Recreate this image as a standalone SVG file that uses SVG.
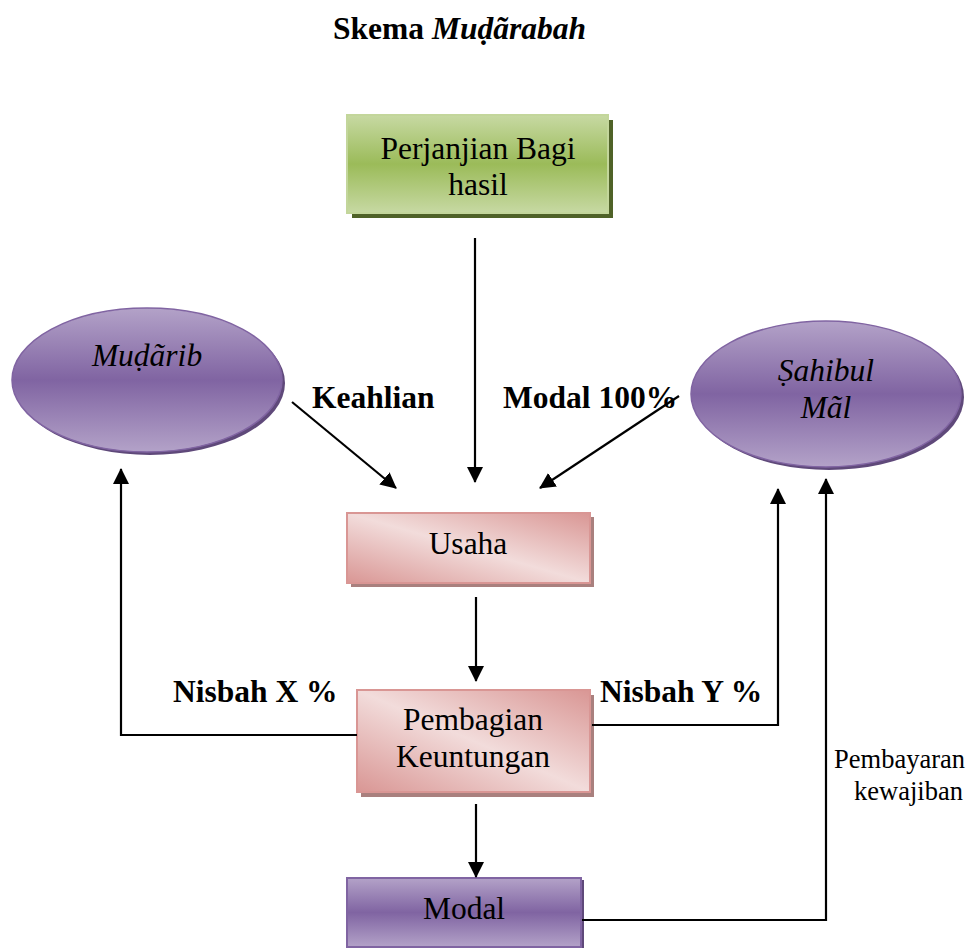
<svg xmlns="http://www.w3.org/2000/svg" width="969" height="948" viewBox="0 0 969 948">
<defs>
<linearGradient id="gGreen" x1="0" y1="0" x2="0" y2="1">
<stop offset="0" stop-color="#c7d9a3"/><stop offset="0.5" stop-color="#9bbb59"/><stop offset="1" stop-color="#c7d9a3"/>
</linearGradient>
<linearGradient id="gPink" x1="0" y1="1" x2="1" y2="0">
<stop offset="0" stop-color="#d99694"/><stop offset="0.5" stop-color="#f2dcdb"/><stop offset="1" stop-color="#d99694"/>
</linearGradient>
<linearGradient id="gPurple" x1="0" y1="0" x2="0" y2="1">
<stop offset="0" stop-color="#b3a2c8"/><stop offset="0.5" stop-color="#8064a2"/><stop offset="1" stop-color="#b3a2c8"/>
</linearGradient>
<marker id="arr" markerUnits="userSpaceOnUse" markerWidth="16" markerHeight="16" viewBox="0 0 16 16" refX="15" refY="8" orient="auto">
<path d="M0,0 L16,8 L0,16 z" fill="#000"/>
</marker>
<style>
.t{font-family:"Liberation Serif","Times New Roman",serif;font-size:31.5px;fill:#000}
.b{font-weight:bold}
.i{font-style:italic}
.c{text-anchor:middle}
.small{font-family:"Liberation Serif","Times New Roman",serif;font-size:26.5px;fill:#000;text-anchor:end}
.ln{fill:none;stroke:#000;stroke-width:2.2}
</style>
</defs>
<rect width="969" height="948" fill="#fff"/>
<text id="title" class="t b" x="333" y="39">Skema <tspan class="i">Muḍãrabah</tspan></text>

<g id="perjanjian">
<rect x="352" y="120" width="261" height="98" fill="#4f6228"/>
<rect x="347" y="115" width="261" height="98" fill="url(#gGreen)" stroke="#c3d69b" stroke-width="2"/>
<text class="t c" x="478" y="159">Perjanjian Bagi</text>
<text class="t c" x="478" y="195">hasil</text>
</g>

<g id="mudarib">
<ellipse cx="150" cy="383" rx="135" ry="72" fill="#5f497a"/>
<ellipse cx="147" cy="380" rx="135" ry="72" fill="url(#gPurple)" stroke="#8064a2" stroke-width="1.5"/>
<text class="t i c" x="147" y="366">Muḍãrib</text>
</g>

<g id="sahibul">
<ellipse cx="829" cy="397" rx="135" ry="73" fill="#5f497a"/>
<ellipse cx="826" cy="394" rx="135" ry="73" fill="url(#gPurple)" stroke="#8064a2" stroke-width="1.5"/>
<text class="t i c" x="826" y="381">Ṣahibul</text>
<text class="t i c" x="826" y="418">Mãl</text>
</g>

<g id="usaha">
<rect x="351" y="517" width="243" height="70" fill="#a9807e"/>
<rect x="347" y="513" width="243" height="70" fill="url(#gPink)" stroke="#d99694" stroke-width="2"/>
<text class="t c" x="468" y="554">Usaha</text>
</g>

<g id="pembagian">
<rect x="361" y="695" width="233" height="102" fill="#a9807e"/>
<rect x="357" y="690" width="233" height="102" fill="url(#gPink)" stroke="#d99694" stroke-width="2"/>
<text class="t c" x="473" y="730">Pembagian</text>
<text class="t c" x="473" y="767">Keuntungan</text>
</g>

<g id="modal">
<rect x="350" y="880" width="234" height="69" fill="#5f497a"/>
<rect x="347" y="878" width="234" height="69" fill="url(#gPurple)" stroke="#8064a2" stroke-width="2"/>
<text class="t c" x="464" y="919">Modal</text>
</g>

<g id="labels">
<text class="t b" x="312" y="408">Keahlian</text>
<text class="t b" x="503" y="408">Modal 100%</text>
<text class="t b" x="173" y="702">Nisbah X %</text>
<text class="t b" x="600" y="702">Nisbah Y %</text>
<text class="small" x="965" y="768">Pembayaran</text>
<text class="small" x="963" y="800">kewajiban</text>
</g>

<g id="connectors">
<line class="ln" x1="475" y1="238" x2="475" y2="482" marker-end="url(#arr)"/>
<line class="ln" x1="292" y1="402" x2="396" y2="488" marker-end="url(#arr)"/>
<line class="ln" x1="679" y1="396" x2="540" y2="488" marker-end="url(#arr)"/>
<line class="ln" x1="476" y1="597" x2="476" y2="681" marker-end="url(#arr)"/>
<polyline class="ln" points="357,735 121,735 121,469" marker-end="url(#arr)"/>
<polyline class="ln" points="592,725 778,725 778,489" marker-end="url(#arr)"/>
<line class="ln" x1="476" y1="804" x2="476" y2="877" marker-end="url(#arr)"/>
<polyline class="ln" points="582,920 826,920 826,479" marker-end="url(#arr)"/>
</g>
</svg>
